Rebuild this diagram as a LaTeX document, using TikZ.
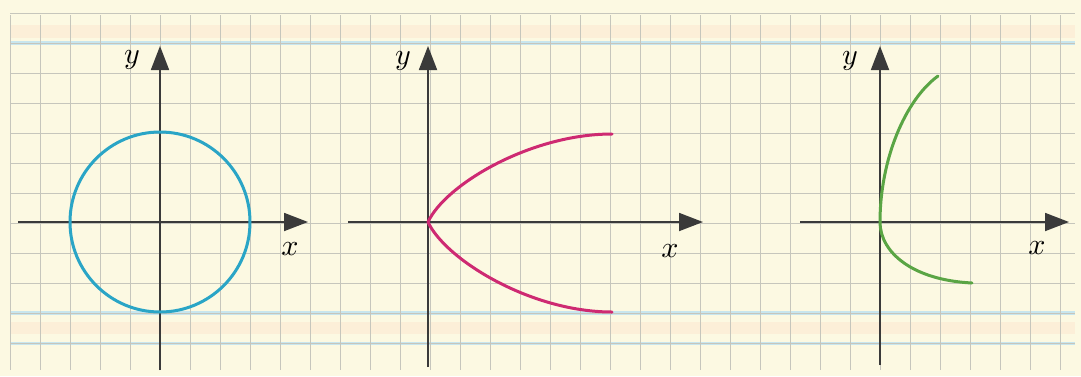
\documentclass[tikz,border=0pt]{standalone}
\usetikzlibrary{arrows.meta}
\definecolor{paper}{HTML}{FCF9E2}
\definecolor{gridc}{HTML}{C6C6BC}
\definecolor{bluec}{HTML}{C8E6EE}
\definecolor{orangec}{HTML}{FCEFD8}
\definecolor{axisc}{HTML}{3A3A3A}
\definecolor{circc}{HTML}{2AA5C6}
\definecolor{parac}{HTML}{CE2A72}
\definecolor{greenc}{HTML}{5AA544}
\tikzset{
  gridline/.style={draw=gridc, line width=0.8pt},
  axisline/.style={draw=axisc, line width=1.8pt, -{Triangle[length=24pt,width=18pt]}},
  curve/.style={line width=3pt, line cap=round},
  lbl/.style={inner sep=0pt, scale=3}
}
\begin{document}
\begin{tikzpicture}[x=1pt,y=-1pt]
\useasboundingbox (0,0) rectangle (1081,376);
\fill[paper] (0,0) rectangle (1081,376);
% coloured bands of the graph paper
\fill[orangec] (10,25) rectangle (1075,38);
\fill[orangec] (10,322) rectangle (1075,334);
\draw[bluec, line width=4pt] (10,43) -- (1075,43);
\draw[bluec, line width=4pt] (10,313) -- (1075,313);
\draw[bluec, line width=3pt] (10,343) -- (1075,343);
% grid
\foreach \k in {0,...,35} {\draw[gridline] ({10+30*\k},15) -- ({10+30*\k},370);}
\foreach \k in {0,...,11} {\draw[gridline] (10,{13+30*\k}) -- (1075,{13+30*\k});}

% ---- panel 1: circle
\coordinate (o1) at (160,222);
\coordinate (x1s) at (18,222);
\coordinate (x1e) at (308,222);
\coordinate (y1s) at (160,370);
\coordinate (y1e) at (160,46);
\draw[axisline] (x1s) -- (x1e);
\draw[axisline] (y1s) -- (y1e);
\draw[curve, circc] (o1) circle[radius=90];
\node[lbl] (ly1) at (132,60) {$y$};
\node[lbl] (lx1) at (290,249) {$x$};

% ---- panel 2: parabola
\coordinate (o2) at (428,222);
\coordinate (p2t) at (612,134);
\coordinate (p2b) at (612,312);
\coordinate (x2s) at (348,222);
\coordinate (x2e) at (703,222);
\coordinate (y2s) at (428,367);
\coordinate (y2e) at (428,46);
\draw[axisline] (x2s) -- (x2e);
\draw[axisline] (y2s) -- (y2e);
\draw[curve, parac] (o2) .. controls (445,185) and (530,134) .. (p2t);
\draw[curve, parac] (o2) .. controls (445,259) and (530,312) .. (p2b);
\node[lbl] (ly2) at (403,61) {$y$};
\node[lbl] (lx2) at (670,251) {$x$};

% ---- panel 3: green curve
\coordinate (o3) at (880,222);
\coordinate (x3s) at (800,222);
\coordinate (x3e) at (1069,222);
\coordinate (y3s) at (880,365);
\coordinate (y3e) at (880,46);
\coordinate (g3t) at (938,76);
\coordinate (g3b) at (972,283);
\draw[axisline] (x3s) -- (x3e);
\draw[axisline] (y3s) -- (y3e);
\draw[curve, greenc] (o3) .. controls (880,160) and (905,100) .. (g3t);
\draw[curve, greenc] (o3) .. controls (880,252) and (912,280) .. (g3b);
\node[lbl] (ly3) at (850,61) {$y$};
\node[lbl] (lx3) at (1037,248) {$x$};
\end{tikzpicture}
\end{document}
